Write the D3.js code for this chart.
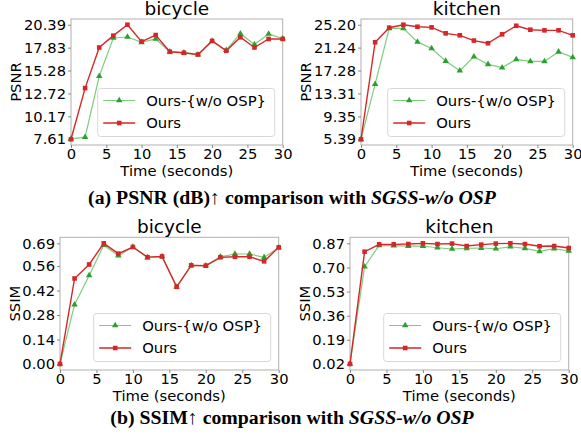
<!DOCTYPE html>
<html lang="en">
<head>
<meta charset="UTF-8">
<title>PSNR / SSIM comparison</title>
<script src="https://cdn.jsdelivr.net/npm/d3@7/dist/d3.min.js"></script>
<style>
    body { margin: 0; background: #fff; }
    svg text { font-family: "DejaVu Sans", sans-serif; fill: #000; }
    .caption { font-family: "Liberation Serif", serif; font-weight: bold; }
</style>
</head>
<body>
<svg id="fig" width="581" height="440"></svg>
<script>
    // time axis (seconds)
    const times = [0, 2, 4, 6, 8, 10, 12, 14, 16, 18, 20, 22, 24, 26, 28, 30];
    const seriesNames = ["Ours-{w/o OSP}", "Ours"];

    // PSNR - bicycle
    const psnrBicycleNoOsp = [7.65, 7.85, 14.64, 18.91, 19.02, 18.43, 18.80, 17.37, 17.26, 17.04, 18.58, 17.55, 19.39, 18.18, 19.36, 18.84];
    const psnrBicycleOurs  = [7.61, 13.32, 17.85, 19.17, 20.39, 18.51, 19.24, 17.37, 17.26, 17.07, 18.58, 17.48, 18.99, 17.85, 18.80, 18.80];
    const psnrBicycleTicks = ["7.61", "10.17", "12.72", "15.28", "17.83", "20.39"];

    // PSNR - kitchen
    const psnrKitchenNoOsp = [5.39, 14.92, 24.57, 24.57, 22.23, 21.09, 18.92, 17.26, 19.66, 18.35, 17.78, 19.20, 18.86, 18.86, 20.52, 19.55];
    const psnrKitchenOurs  = [5.39, 22.17, 24.68, 25.20, 24.85, 24.74, 23.71, 23.37, 22.46, 22.00, 23.54, 25.02, 24.34, 24.23, 24.23, 23.37];
    const psnrKitchenTicks = ["5.39", "9.35", "13.31", "17.28", "21.24", "25.20"];

    // SSIM - bicycle
    const ssimBicycleNoOsp = [0.00, 0.339, 0.506, 0.679, 0.619, 0.669, 0.608, 0.615, 0.441, 0.564, 0.562, 0.613, 0.629, 0.629, 0.610, 0.665];
    const ssimBicycleOurs  = [0.00, 0.489, 0.569, 0.690, 0.631, 0.669, 0.611, 0.615, 0.441, 0.564, 0.562, 0.610, 0.613, 0.613, 0.587, 0.667];
    const ssimBicycleTicks = ["0.00", "0.14", "0.28", "0.42", "0.56", "0.69"];

    // SSIM - kitchen
    const ssimKitchenNoOsp = [0.02, 0.705, 0.856, 0.854, 0.851, 0.851, 0.839, 0.830, 0.835, 0.837, 0.832, 0.846, 0.835, 0.813, 0.832, 0.816];
    const ssimKitchenOurs  = [0.02, 0.811, 0.863, 0.863, 0.865, 0.870, 0.865, 0.868, 0.851, 0.861, 0.868, 0.870, 0.865, 0.849, 0.851, 0.837];
    const ssimKitchenTicks = ["0.02", "0.19", "0.36", "0.53", "0.70", "0.87"];

    const xTicks = [0, 5, 10, 15, 20, 25, 30];

    const green = "#2ca02c", greenLine = "#7fcc7f", red = "#d62728";

    const panels = [
        {title: "bicycle", ylabel: "PSNR", ticks: psnrBicycleTicks, a: psnrBicycleNoOsp, b: psnrBicycleOurs, l: 71, r: 282.7, t: 19, bt: 145},
        {title: "kitchen", ylabel: "PSNR", ticks: psnrKitchenTicks, a: psnrKitchenNoOsp, b: psnrKitchenOurs, l: 361, r: 572.7, t: 19, bt: 145},
        {title: "bicycle", ylabel: "SSIM", ticks: ssimBicycleTicks, a: ssimBicycleNoOsp, b: ssimBicycleOurs, l: 60, r: 278.7, t: 237.3, bt: 370},
        {title: "kitchen", ylabel: "SSIM", ticks: ssimKitchenTicks, a: ssimKitchenNoOsp, b: ssimKitchenOurs, l: 350, r: 568.7, t: 237.3, bt: 370}
    ];

    const svg = d3.select("#fig");

    function drawMarker(g, kind, cx, cy) {
        if (kind === "tri") {
            g.append("path")
                .attr("d", d3.symbol().type(d3.symbolTriangle).size(18)())
                .attr("transform", `translate(${cx},${cy})`)
                .attr("fill", green);
        } else {
            g.append("rect")
                .attr("x", cx - 2.3).attr("y", cy - 2.3)
                .attr("width", 4.6).attr("height", 4.6)
                .attr("fill", red);
        }
    }

    panels.forEach(p => {
        const tickVals = p.ticks.map(Number);
        const lo = tickVals[0], hi = tickVals[tickVals.length - 1];
        const pad = (hi - lo) * 0.05;

        const x = d3.scaleLinear().domain([0, 30]).range([p.l, p.r]);
        const y = d3.scaleLinear().domain([lo - pad, hi + pad]).range([p.bt, p.t]);

        const g = svg.append("g");

        // frame
        g.append("rect")
            .attr("x", p.l).attr("y", p.t)
            .attr("width", p.r - p.l).attr("height", p.bt - p.t)
            .attr("fill", "none").attr("stroke", "#b0b0b0").attr("stroke-width", 1);

        // axes
        const xAxis = g.append("g")
            .attr("transform", `translate(0,${p.bt})`)
            .call(d3.axisBottom(x).tickValues(xTicks).tickSize(3).tickPadding(1));
        const yAxis = g.append("g")
            .attr("transform", `translate(${p.l},0)`)
            .call(d3.axisLeft(y).tickValues(tickVals).tickFormat((d, i) => p.ticks[i]).tickSize(3).tickPadding(2));
        [xAxis, yAxis].forEach(ax => {
            ax.select(".domain").remove();
            ax.selectAll(".tick line").attr("stroke", "#888");
            ax.selectAll(".tick text").attr("font-size", 14.7).attr("font-family", "DejaVu Sans").attr("fill", "#000");
        });

        // title and labels
        g.append("text")
            .attr("x", (p.l + p.r) / 2).attr("y", p.t - 4.5)
            .attr("text-anchor", "middle").attr("font-size", 18.5)
            .text(p.title);
        g.append("text")
            .attr("x", (p.l + p.r) / 2).attr("y", p.bt + 31)
            .attr("text-anchor", "middle").attr("font-size", 14.8)
            .text("Time (seconds)");
        g.append("text")
            .attr("transform", `translate(${p.l - (p.ylabel === "PSNR" ? 50.3 : 40)},${(p.t + p.bt) / 2}) rotate(-90)`)
            .attr("text-anchor", "middle").attr("font-size", 14.8)
            .text(p.ylabel);

        const line = d3.line().x((d, i) => x(times[i])).y(d => y(d));

        // series
        g.append("path").datum(p.a)
            .attr("d", line).attr("fill", "none")
            .attr("stroke", greenLine).attr("stroke-width", 1.2);
        p.a.forEach((v, i) => drawMarker(g, "tri", x(times[i]), y(v)));

        g.append("path").datum(p.b)
            .attr("d", line).attr("fill", "none")
            .attr("stroke", red).attr("stroke-width", 1.4);
        p.b.forEach((v, i) => drawMarker(g, "sq", x(times[i]), y(v)));

        // legend (lower right)
        const lw = 177, lh = 48;
        const lx = p.r - 8 - lw, ly = p.bt - 8.5 - lh;
        const leg = g.append("g");
        leg.append("rect")
            .attr("x", lx).attr("y", ly).attr("width", lw).attr("height", lh)
            .attr("rx", 3).attr("fill", "#fff").attr("fill-opacity", 0.85)
            .attr("stroke", "#d8d8d8");
        seriesNames.forEach((name, i) => {
            const yy = ly + 12 + i * 22.5;
            leg.append("line")
                .attr("x1", lx + 5.5).attr("x2", lx + 37.5)
                .attr("y1", yy).attr("y2", yy)
                .attr("stroke", i === 0 ? greenLine : red)
                .attr("stroke-width", i === 0 ? 1.2 : 1.4);
            drawMarker(leg, i === 0 ? "tri" : "sq", lx + 21.5, yy);
            leg.append("text")
                .attr("x", lx + 48.5).attr("y", yy)
                .attr("dy", "0.36em").attr("font-size", 14.8)
                .text(name);
        });
    });

    // captions
    function caption(yPos, lead) {
        const t = svg.append("text")
            .attr("class", "caption")
            .attr("x", 292).attr("y", yPos)
            .attr("text-anchor", "middle").attr("font-size", 19.8);
        t.append("tspan").text(lead);
        t.append("tspan").attr("font-style", "italic").text("SGSS-w/o OSP");
    }
    caption(204, "(a) PSNR (dB)\u2191 comparison with ");
    caption(424, "(b) SSIM\u2191 comparison with ");
</script>
</body>
</html>
